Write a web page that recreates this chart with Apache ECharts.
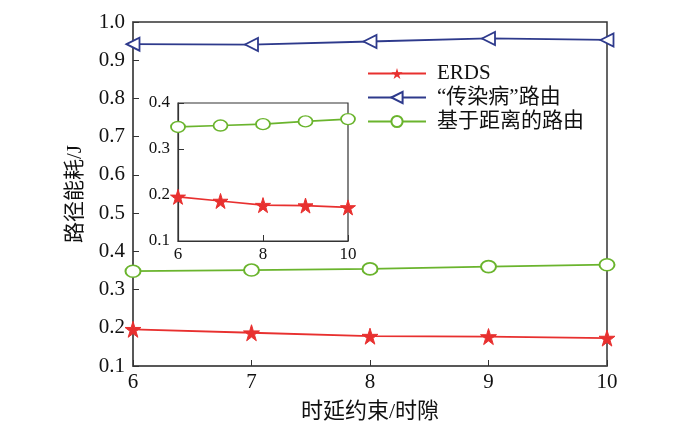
<!DOCTYPE html>
<html><head><meta charset="utf-8">
<script src="https://cdn.jsdelivr.net/npm/echarts@6/dist/echarts.min.js"></script>
<style>html,body{margin:0;padding:0;background:#fff}#c{width:700px;height:421px}</style>
</head><body><div id="c"></div>
<script>
var xCats = [6, 7, 8, 9, 10];
var erds = [0.196, 0.187, 0.178, 0.177, 0.173];
var epidemic = [0.942, 0.941, 0.949, 0.957, 0.953];
var distance = [0.348, 0.351, 0.354, 0.360, 0.365];
var names = ['ERDS', '\u201c传染病\u201d路由', '基于距离的路由'];
var xLabel = '时延约束/时隙';
var yLabel = '路径能耗/J';

var FONT = '"Liberation Serif", "Noto Sans CJK SC", serif';
var RED = '#e8302f', BLUE = '#2e3a8c', GREEN = '#6ab42d';
var STAR = 'path://M50,0 L61,35 L98,35 L68,57 L79,91 L50,70 L21,91 L32,57 L2,35 L39,35 Z';

function pts(v){ return xCats.map(function(x,i){return [x, v[i]];}); }

var chart = echarts.init(document.getElementById('c'));
var axisLineStyle = {color:'#555', width:1.5};
chart.setOption({
  animation:false,
  textStyle:{fontFamily:FONT},
  grid:[
    {left:133, right:93, top:22, bottom:55, containLabel:false, outerBoundsMode:'none', show:true, borderColor:'#333', borderWidth:1.5, backgroundColor:'transparent'},
    {left:178, width:170, top:103, height:138, containLabel:false, outerBoundsMode:'none', show:true, borderColor:'#333', borderWidth:1.2, backgroundColor:'#fff', z:5}
  ],
  legend:{
    orient:'vertical', left:362, top:58, itemWidth:58, itemHeight:14, itemGap:3,
    textStyle:{fontFamily:FONT, fontSize:21, color:'#111', padding:[0,0,0,6]},
    data:names
  },
  xAxis:[
    {type:'value', gridIndex:0, min:6, max:10, interval:1,
     name:xLabel, nameLocation:'middle', nameGap:35, nameTextStyle:{fontFamily:FONT, fontSize:22, color:'#111'},
     axisLine:{lineStyle:axisLineStyle}, axisTick:{inside:true, length:6, lineStyle:{color:'#333'}},
     axisLabel:{fontFamily:FONT, fontSize:21, color:'#111', margin:6}, splitLine:{show:false}},
    {type:'value', gridIndex:1, min:6, max:10, interval:2,
     axisLine:{lineStyle:{color:'#333', width:1.2}}, axisTick:{inside:true, length:6, lineStyle:{color:'#333'}},
     axisLabel:{fontFamily:FONT, fontSize:17, color:'#111', margin:5}, splitLine:{show:false}, z:6}
  ],
  yAxis:[
    {type:'value', gridIndex:0, min:0.1, max:1.0, interval:0.1,
     name:yLabel, nameLocation:'middle', nameGap:47, nameTextStyle:{fontFamily:FONT, fontSize:21, color:'#111'},
     axisLine:{lineStyle:axisLineStyle}, axisTick:{inside:true, length:6, lineStyle:{color:'#333'}},
     axisLabel:{fontFamily:FONT, fontSize:21, color:'#111', margin:8, formatter:function(v){return v.toFixed(1);}},
     splitLine:{show:false}},
    {type:'value', gridIndex:1, min:0.1, max:0.4, interval:0.1,
     axisLine:{lineStyle:{color:'#333', width:1.2}}, axisTick:{inside:true, length:6, lineStyle:{color:'#333'}},
     axisLabel:{fontFamily:FONT, fontSize:17, color:'#111', margin:8, formatter:function(v){return v.toFixed(1);}},
     splitLine:{show:false}, z:6}
  ],
  series:[
    {name:names[0], type:'line', xAxisIndex:0, yAxisIndex:0, data:pts(erds),
     symbol:STAR, symbolSize:16, lineStyle:{color:RED, width:1.8},
     itemStyle:{color:RED, borderColor:RED}},
    {name:names[1], type:'line', xAxisIndex:0, yAxisIndex:0, data:pts(epidemic),
     symbol:'triangle', symbolRotate:90, symbolSize:[13,13], showAllSymbol:true,
     lineStyle:{color:BLUE, width:1.8},
     itemStyle:{color:'#fff', borderColor:BLUE, borderWidth:1.8}},
    {name:names[2], type:'line', xAxisIndex:0, yAxisIndex:0, data:pts(distance),
     symbol:'circle', symbolSize:[15,12],
     lineStyle:{color:GREEN, width:1.8},
     itemStyle:{color:'#fff', borderColor:GREEN, borderWidth:1.8}},
    {name:names[0], type:'line', xAxisIndex:1, yAxisIndex:1, data:pts(erds), z:7,
     symbol:STAR, symbolSize:15, lineStyle:{color:RED, width:1.6},
     itemStyle:{color:RED, borderColor:RED}},
    {name:names[2], type:'line', xAxisIndex:1, yAxisIndex:1, data:pts(distance), z:7,
     symbol:'circle', symbolSize:[14,11],
     lineStyle:{color:GREEN, width:1.6},
     itemStyle:{color:'#fff', borderColor:GREEN, borderWidth:1.6}}
  ]
});
</script></body></html>
